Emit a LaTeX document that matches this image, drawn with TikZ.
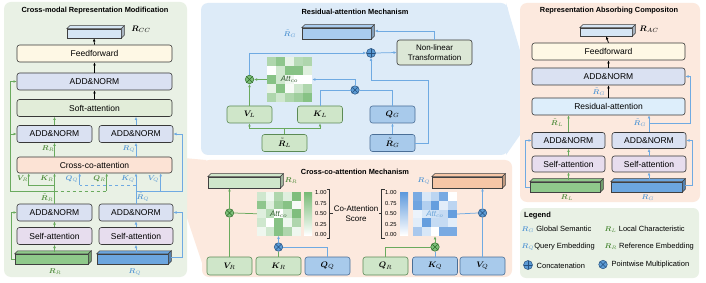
\documentclass[tikz,border=0pt]{standalone}
\usepackage{fontspec}
\setmainfont{Liberation Sans}
\usepackage{bm}
\usetikzlibrary{arrows.meta,calc}

\definecolor{pgreen}{HTML}{E9F1E5}
\definecolor{pblue}{HTML}{DDEBF8}
\definecolor{ppeach}{HTML}{FCE9DE}
\definecolor{fffill}{HTML}{FEF8E5}
\definecolor{anfill}{HTML}{DAE1F2}
\definecolor{softfill}{HTML}{E2EDD9}
\definecolor{crossfill}{HTML}{FCE3D5}
\definecolor{selffill}{HTML}{E7DDEE}
\definecolor{resfill}{HTML}{DDEEFB}
\definecolor{gbar}{HTML}{8FC98B}
\definecolor{bbar}{HTML}{6CA6DF}
\definecolor{lbar}{HTML}{D6E6F5}
\definecolor{gtbar}{HTML}{A9CCEF}
\definecolor{rrbar}{HTML}{CFE7CB}
\definecolor{rqbar}{HTML}{F6C6A6}
\definecolor{gboxf}{HTML}{CFE6C9}
\definecolor{gboxd}{HTML}{5B8A55}
\definecolor{bboxf}{HTML}{A8CAEB}
\definecolor{bboxd}{HTML}{4A6E96}
\definecolor{gcol}{HTML}{6AAA5E}
\definecolor{bcol}{HTML}{6FAAE2}
\definecolor{gtxtc}{HTML}{4E8B3A}
\definecolor{btxtc}{HTML}{5B9BD5}
\definecolor{nltfill}{HTML}{DCE7D6}
\definecolor{matg}{HTML}{5FAE5C}
\definecolor{matb}{HTML}{3F86D6}
\definecolor{goxf}{HTML}{7DC07A}
\definecolor{goxd}{HTML}{2F6B2A}
\definecolor{boxfb}{HTML}{5B9BD5}
\definecolor{boxdb}{HTML}{25507E}

\newcommand{\barsides}[2]{%
  \filldraw[fill=#2, draw=black!75, line width=0.5pt] (#1.north west) -- ++(3,-3) -- ([shift={(3,-3)}]#1.north east) -- (#1.north east) -- cycle;
  \filldraw[fill=#2!78!black, draw=black!75, line width=0.5pt] (#1.north east) -- ++(3,-3) -- ([shift={(3,-3)}]#1.south east) -- (#1.south east) -- cycle;
}
\newcommand{\cells}[5]{%
  \foreach \rw [count=\ri from 0] in {#5} {
    \foreach \vv [count=\ci from 0] in \rw {
      \fill[#4!\vv!white] ({#1+\ci*#3},{#2+\ri*#3}) rectangle ++(#3,#3);
    }
  }
}

\begin{document}
\begin{tikzpicture}[x=1pt,y=-1pt,
  >={Latex[length=3.2pt,width=2.8pt]},
  blk/.style={draw=black!78, line width=0.6pt, rounded corners=2.5pt, inner sep=0pt, font=\fontsize{8.5}{10}\selectfont},
  barn/.style={draw=black!75, line width=0.5pt, inner sep=0pt},
  ttl/.style={font=\bfseries\fontsize{7.4}{9}\selectfont, inner sep=0pt},
  gbx/.style={blk, fill=gboxf, draw=gboxd, minimum width=45pt, minimum height=17pt, font=\fontsize{8}{9}\selectfont},
  bbx/.style={blk, fill=bboxf, draw=bboxd, minimum width=45pt, minimum height=17pt, font=\fontsize{8}{9}\selectfont},
  gln/.style={draw=gcol, line width=0.75pt},
  bln/.style={draw=bcol, line width=0.75pt},
  garr/.style={gln, ->},
  barr/.style={bln, ->},
  karr/.style={draw=black, line width=0.75pt, ->},
  glab/.style={text=gtxtc, inner sep=0.5pt, font=\fontsize{7.5}{9}\selectfont},
  blab/.style={text=btxtc, inner sep=0.5pt, font=\fontsize{7.5}{9}\selectfont},
  otimes/.style 2 args={circle, draw=#2, fill=#1, line width=0.5pt, minimum size=8.5pt, inner sep=0pt,
    path picture={\draw[draw=#2, line width=0.55pt] (path picture bounding box.north west) -- (path picture bounding box.south east) (path picture bounding box.north east) -- (path picture bounding box.south west);}},
  oplusn/.style 2 args={circle, draw=#2, fill=#1, line width=0.5pt, minimum size=9pt, inner sep=0pt,
    path picture={\draw[draw=#2, line width=0.55pt] (path picture bounding box.north) -- (path picture bounding box.south) (path picture bounding box.west) -- (path picture bounding box.east);}},
  tk/.style={font=\fontsize{5.8}{7}\selectfont, inner sep=0pt, anchor=west},
  lgf/.style={font=\fontsize{7.5}{9}\selectfont, inner sep=0.5pt, anchor=west},
]
\useasboundingbox (0,0) rectangle (706,283);
\fill[white] (0,0) rectangle (706,283);

% funnels
\fill[ppeach] (172,157) -- (206,160) -- (206,275) -- (172,173) -- cycle;
\fill[pblue] (506,3) -- (534,98) -- (534,115) -- (506,155) -- cycle;

% panels
\fill[pgreen, rounded corners=7pt] (4,2) rectangle (187,277);
\fill[pblue, rounded corners=7pt] (201,3) rectangle (508,155);
\fill[ppeach, rounded corners=7pt] (202,160) rectangle (512,277);
\fill[ppeach, rounded corners=7pt] (520,3) rectangle (700,202);
\fill[pgreen, rounded corners=6pt] (520,208) rectangle (699,278);

%================ LEFT PANEL
\node[ttl] (t1) at (95,11) {Cross-modal Representation Modification};
\node[barn, fill=lbar, minimum width=54pt, minimum height=9pt] (rcc) at (94,33.5) {};
\barsides{rcc}{lbar}
\node[inner sep=0pt, font=\fontsize{8}{9}\selectfont] (rccl) at (141,29) {$\bm{R}_{CC}$};
\node[blk, fill=fffill, minimum width=155pt, minimum height=17pt] (ff1) at (94.5,53.5) {Feedforward};
\node[blk, fill=anfill, minimum width=155pt, minimum height=17pt] (an1) at (94.5,81.5) {ADD\&NORM};
\node[blk, fill=softfill, minimum width=155pt, minimum height=17pt] (soft1) at (94.5,108) {Soft-attention};
\node[blk, fill=anfill, minimum width=75pt, minimum height=17pt] (anUL) at (54.5,134) {ADD\&NORM};
\node[blk, fill=anfill, minimum width=74pt, minimum height=17pt] (anUR) at (136,134) {ADD\&NORM};
\node[blk, fill=crossfill, minimum width=155pt, minimum height=16pt] (cross1) at (94.5,165) {Cross-co-attention};
\node[blk, fill=anfill, minimum width=75pt, minimum height=17pt] (anLL) at (54.5,212.5) {ADD\&NORM};
\node[blk, fill=anfill, minimum width=74pt, minimum height=17pt] (anLR) at (136,212.5) {ADD\&NORM};
\node[blk, fill=selffill, minimum width=75pt, minimum height=17pt] (selfL) at (54.5,236) {Self-attention};
\node[blk, fill=selffill, minimum width=74pt, minimum height=17pt] (selfR) at (136,236) {Self-attention};
\node[barn, fill=gbar, minimum width=73pt, minimum height=10pt] (barRR) at (51.5,259) {};
\barsides{barRR}{gbar}
\node[barn, fill=bbar, minimum width=71pt, minimum height=10pt] (barRQ) at (132.5,259) {};
\barsides{barRQ}{bbar}
\node[glab] (lRRb) at (55,272) {$\bm{R}_R$};
\node[blab] (lRQb) at (135,272.5) {$\bm{R}_Q$};

% inputs of cross-co-attention
\coordinate (inVR) at ($(cross1.south west)+(12,0)$);
\coordinate (inQQ) at ($(cross1.south west)+(63,0)$);
\coordinate (inQR) at ($(cross1.south west)+(90,0)$);
\coordinate (inVQ) at ($(cross1.south west)+(144,0)$);
\coordinate (jg1) at (54.5,185);
\coordinate (jg2) at (54.5,191);
\coordinate (jb1) at (136,185);
\coordinate (jb2) at (136,191);
\coordinate (gres) at (10,191);
\coordinate (bres) at (182,191);

\draw[garr] ($(selfL.south|-barRR.north)+(0,-1.5)$) -- (selfL.south);
\draw[garr] (selfL.north) -- (anLL.south);
\draw[barr] ($(selfR.south|-barRQ.north)+(0,-1.5)$) -- (selfR.south);
\draw[barr] (selfR.north) -- (anLR.south);
\draw[garr] (barRR.west) -- ++(-3.5,0) |- (anLL.west);
\draw[barr] ($(barRQ.east)+(3,-2)$) -| ($(anLR.east)+(9,0)$) -- (anLR.east);

\draw[garr] (anLL.north) -- (anLL.north |- cross1.south);
\draw[garr] (jg1) -| (inVR);
\draw[gln, dashed] (jg2) -- (jg2 -| inQR);
\draw[garr] (jg2 -| inQR) -- (inQR);
\draw[garr] (jg2) -- (gres) |- (an1.west);
\draw[garr] (gres |- anUL.west) -- (anUL.west);

\draw[barr] (anLR.north) -- (anLR.north |- cross1.south);
\draw[bln, dashed] (jb1) -- (jb1 -| inQQ);
\draw[barr] (jb1 -| inQQ) -- (inQQ);
\draw[barr] (jb2) -- (bres) |- (anUR.east);
\draw[barr] (jb2 -| inVQ) -- (inVQ);

\node[glab] (lVR) at (22.5,179) {$\bm{V}_R$};
\node[glab] (lKR) at (47,179) {$\bm{K}_R$};
\node[blab] (lQQ) at (72,179) {$\bm{Q}_Q$};
\node[glab] (lQR) at (99.5,179) {$\bm{Q}_R$};
\node[blab] (lKQ) at (128,179) {$\bm{K}_Q$};
\node[blab] (lVQ) at (153.5,179) {$\bm{V}_Q$};
\node[glab] (lRtR) at (47,197.5) {$\tilde{\bm{R}}_R$};
\node[blab] (lRtQ) at (143,197.5) {$\tilde{\bm{R}}_Q$};

\draw[garr] (cross1.north -| anUL) -- (anUL.south);
\draw[barr] (cross1.north -| anUR) -- (anUR.south);
\node[glab] (lRR1) at (48,149) {$\bm{R}_R$};
\node[blab] (lRQ1) at (129,149) {$\bm{R}_Q$};
\draw[garr] (anUL.north) -- (anUL.north |- soft1.south);
\draw[barr] (anUR.north) -- (anUR.north |- soft1.south);
\draw[karr] (soft1.north) -- (an1.south);
\draw[karr] (an1.north) -- (ff1.south);
\draw[karr] (ff1.north) -- (rcc.south);

%================ RESIDUAL-ATTENTION MECHANISM
\node[ttl] (t2) at (355,12) {Residual-attention Mechanism};
\node[barn, fill=gtbar, minimum width=69pt, minimum height=11pt] (rgt) at (336.5,33.5) {};
\barsides{rgt}{gtbar}
\node[blab] (lrgt) at (290,34) {$\tilde{\bm{R}}_G$};
\node[blk, fill=nltfill, minimum width=75pt, minimum height=25pt, align=center, font=\fontsize{8}{9.5}\selectfont] (nlt) at (434.5,52.5) {Non-linear\\Transformation};
\node[oplusn={boxfb}{boxdb}] (op1) at (371,53) {};
\node[otimes={goxf}{goxd}] (ox1) at (249.5,79.5) {};
\node[otimes={boxfb}{boxdb}] (ox2) at (355,90) {};
\cells{267}{57}{9}{matg}{{50,70,15,45,50},{0,30,75,75,20},{75,30,10,0,0},{15,75,5,30,50},{50,30,50,60,75}}
\node[minimum width=45pt, minimum height=45pt, inner sep=0pt, text=matg!50!black, font=\fontsize{8}{9}\selectfont] (att1) at (289.5,79.5) {$\mathit{Att}_{co}$};
\node[gbx] (VL) at (249.5,114.5) {$\bm{V}_L$};
\node[gbx] (KL) at (320,114.5) {$\bm{K}_L$};
\node[bbx] (QG) at (392.5,114.5) {$\bm{Q}_G$};
\node[gbx] (RtL) at (284.5,143) {$\tilde{\bm{R}}_L$};
\node[bbx] (RtG) at (392.5,143) {$\tilde{\bm{R}}_G$};

\coordinate (jL) at (284.5,128);
\coordinate (jG) at (428,80);
\draw[gln] (RtL.north) -- (jL);
\draw[garr] (jL) -| (VL.south);
\draw[garr] (jL) -| (KL.south);
\draw[garr] (VL.north) -- (ox1.south);
\draw[garr] (att1.west) -- (ox1.east);
\draw[barr] (ox1.north) |- (op1.west);
\draw[bln] (KL.north) |- (ox2.west);
\draw[bln] (QG.north) |- (ox2.east);
\draw[barr] (ox2.north) |- (att1.east);
\draw[barr] (RtG.north) -- (QG.south);
\draw[barr] (RtG.east) -| (jG) -| (op1.south);
\draw[barr] (op1.east) -- (nlt.west);
\draw[barr] (nlt.north) |- ($(rgt.east)+(3.5,-2.5)$);

%================ CROSS-CO-ATTENTION MECHANISM
\node[ttl] (t3) at (355,172) {Cross-co-attention Mechanism};
\node[barn, fill=rrbar, minimum width=72pt, minimum height=11pt] (rrb) at (244,182.5) {};
\barsides{rrb}{rrbar}
\node[glab] (lrrb) at (291,181) {$\bm{R}_R$};
\node[barn, fill=rqbar, minimum width=70pt, minimum height=11pt] (rqb) at (467,182.5) {};
\barsides{rqb}{rqbar}
\node[blab] (lrqb) at (424,181) {$\bm{R}_Q$};

\node[gbx, minimum height=18pt] (VR) at (229.5,266) {$\bm{V}_R$};
\node[gbx, minimum height=18pt] (KR) at (278.5,266) {$\bm{K}_R$};
\node[bbx, minimum height=18pt] (QQ) at (327.5,266) {$\bm{Q}_Q$};
\node[gbx, minimum height=18pt] (QR) at (385.5,266) {$\bm{Q}_R$};
\node[bbx, minimum height=18pt] (KQ) at (435,266) {$\bm{K}_Q$};
\node[bbx, minimum height=18pt] (VQ) at (482.5,266) {$\bm{V}_Q$};

\cells{257}{192}{8.7}{matg}{{30,10,50,20,80},{70,20,60,75,5},{20,45,0,30,80},{30,0,75,10,50},{10,30,75,50,10}}
\node[minimum width=43.5pt, minimum height=43.5pt, inner sep=0pt, text=matg!55!black, font=\fontsize{8}{9}\selectfont] (att2) at (278.75,213.75) {$\mathit{Att}_{co}$};
\cells{413}{192}{8.8}{matb}{{70,20,35,70,0},{75,40,80,15,35},{10,20,25,30,80},{15,80,30,30,15},{45,20,0,70,70}}
\node[minimum width=44pt, minimum height=44pt, inner sep=0pt, text=btxtc!90!white, font=\fontsize{8}{9}\selectfont] (att3) at (435,214) {$\mathit{Att}_{co}$};

\shade[top color=matg!85!white, bottom color=white] (304,192) rectangle (312,235);
\shade[top color=matb!85!white, bottom color=white] (400,192) rectangle (408,235);
\node[tk] (tg1) at (315,193) {1.00};
\node[tk] (tg2) at (315,203.5) {0.75};
\node[tk] (tg3) at (315,214) {0.50};
\node[tk] (tg4) at (315,224.5) {0.25};
\node[tk] (tg5) at (315,235) {0.00};
\node[tk] (tb1) at (385,193) {1.00};
\node[tk] (tb2) at (385,203.5) {0.75};
\node[tk] (tb3) at (385,214) {0.50};
\node[tk] (tb4) at (385,224.5) {0.25};
\node[tk] (tb5) at (385,235) {0.00};
\draw[black!80, line width=0.5pt] (326.5,189) -- (329.5,189) -- (329.5,238) -- (326.5,238);
\draw[black!80, line width=0.5pt] (329.5,213.5) -- (332.5,213.5);
\draw[black!80, line width=0.5pt] (384.5,189) -- (381.5,189) -- (381.5,238) -- (384.5,238);
\draw[black!80, line width=0.5pt] (381.5,213.5) -- (378.5,213.5);
\node[align=center, inner sep=0pt, font=\fontsize{8}{9.5}\selectfont] (cas) at (356,213.5) {Co-Attention\\Score};

\node[otimes={goxf}{goxd}] (ox3) at (229.5,213) {};
\node[otimes={boxfb}{boxdb}] (ox4) at (278.5,247) {};
\node[otimes={goxf}{goxd}] (ox5) at (435,247) {};
\node[otimes={boxfb}{boxdb}] (ox6) at (482.5,213) {};

\draw[gln] (VR.north) -- (ox3.south);
\draw[garr] (ox3.north) -- (ox3.north |- rrb.south);
\draw[gln] (att2.west) -- (ox3.east);
\draw[gln] (KR.north) -- (ox4.south);
\draw[barr] (ox4.north) -- (ox4.north |- att2.south);
\draw[bln] (QQ.north) |- (ox4.east);
\draw[bln] (KQ.north) -- (ox5.south);
\draw[garr] (ox5.north) -- (ox5.north |- att3.south);
\draw[gln] (QR.north) |- (ox5.west);
\draw[bln] (VQ.north) -- (ox6.south);
\draw[barr] (ox6.north) -- (ox6.north |- rqb.south);
\draw[bln] (att3.east) -- (ox6.west);

%================ REPRESENTATION ABSORBING COMPOSITON
\node[ttl] (t4) at (609,11) {Representation Absorbing Compositon};
\node[barn, fill=lbar, minimum width=52pt, minimum height=8pt] (rac) at (606,32) {};
\barsides{rac}{lbar}
\node[inner sep=0pt, font=\fontsize{8}{9}\selectfont] (racl) at (649,29) {$\bm{R}_{AC}$};
\node[blk, fill=fffill, minimum width=153pt, minimum height=17pt] (ff2) at (608.5,51.5) {Feedforward};
\node[blk, fill=anfill, minimum width=153pt, minimum height=17pt] (an2) at (608.5,76.5) {ADD\&NORM};
\node[blk, fill=resfill, minimum width=153pt, minimum height=17pt] (res2) at (608.5,106.5) {Residual-attention};
\node[blk, fill=anfill, minimum width=73pt, minimum height=16pt] (anL2) at (568.5,140.5) {ADD\&NORM};
\node[blk, fill=anfill, minimum width=74pt, minimum height=16pt] (anR2) at (649,140.5) {ADD\&NORM};
\node[blk, fill=selffill, minimum width=73pt, minimum height=16pt] (selfL2) at (568.5,164) {Self-attention};
\node[blk, fill=selffill, minimum width=74pt, minimum height=16pt] (selfR2) at (649,164) {Self-attention};
\node[barn, fill=gbar, minimum width=70pt, minimum height=10pt] (barRL) at (565,187) {};
\barsides{barRL}{gbar}
\node[barn, fill=bbar, minimum width=71pt, minimum height=10pt] (barRG) at (646.5,187) {};
\barsides{barRG}{bbar}
\node[glab] (lRLb) at (567,198) {$\bm{R}_L$};
\node[blab] (lRGb) at (648,198) {$\bm{R}_G$};

\coordinate (jr) at (649,123);
\coordinate (rr1) at (690,123);
\coordinate (rr2) at (692,140.5);
\draw[garr] ($(selfL2.south|-barRL.north)+(0,-1.5)$) -- (selfL2.south);
\draw[garr] (selfL2.north) -- (anL2.south);
\draw[barr] ($(selfR2.south|-barRG.north)+(0,-1.5)$) -- (selfR2.south);
\draw[barr] (selfR2.north) -- (anR2.south);
\draw[barr] (barRL.west) -- ++(-4,0) |- (anL2.west);
\draw[barr] ($(barRG.east)+(3,-2)$) -| (rr2) -- (anR2.east);
\draw[garr, line width=1.2pt] (anL2.north) -- (anL2.north |- res2.south);
\draw[barr] (anR2.north) -- (anR2.north |- res2.south);
\draw[barr] (jr) -- (rr1) |- (an2.east);
\node[glab] (lRtL2) at (557,123) {$\tilde{\bm{R}}_L$};
\node[blab] (lRtG2) at (640,123) {$\tilde{\bm{R}}_G$};
\draw[karr] (res2.north) -- (an2.south);
\node[blab, font=\fontsize{7}{8}\selectfont] (lRtG3) at (599,92) {$\tilde{\bm{R}}_G$};
\draw[karr] (an2.north) -- (ff2.south);
\draw[karr] (ff2.north) -- (rac.south);

%================ LEGEND
\node[anchor=west, inner sep=0pt, font=\bfseries\fontsize{7.5}{9}\selectfont] (lg) at (524,216) {Legend};
\node[lgf] (lg1) at (521,229) {\textcolor{btxtc}{$\bm{R}_G$} Global Semantic};
\node[lgf] (lg2) at (604,229) {\textcolor{gtxtc}{$\bm{R}_L$} Local Characteristic};
\node[lgf] (lg3) at (521,247) {\textcolor{btxtc}{$\bm{R}_Q$}Query Embedding};
\node[lgf] (lg4) at (604,247) {\textcolor{gtxtc}{$\bm{R}_R$} Reference Embedding};
\node[oplusn={boxfb}{boxdb}] (lgp) at (528,265) {};
\node[lgf] (lg5) at (536,265.5) {Concatenation};
\node[otimes={boxfb}{boxdb}] (lgx) at (603,264.5) {};
\node[lgf] (lg6) at (611,265) {Pointwise Multiplication};
\end{tikzpicture}
\end{document}
